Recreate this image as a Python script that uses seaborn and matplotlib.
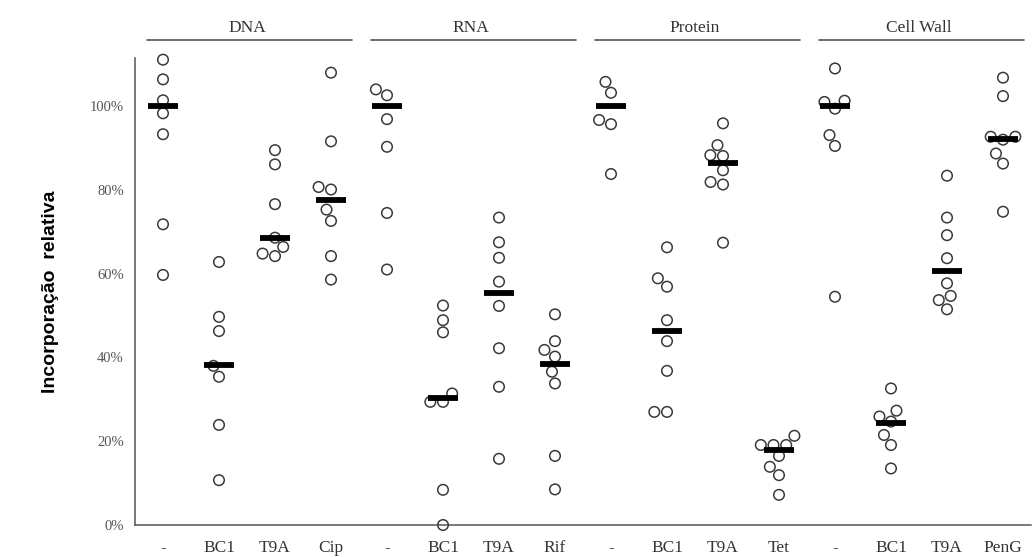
import numpy as np
import pandas as pd
import matplotlib
matplotlib.use("Agg")
import matplotlib.pyplot as plt
import seaborn as sns

# ---- data ----
groups = ["DNA", "RNA", "Protein", "Cell Wall"]
treatments = [["-", "BC1", "T9A", "Cip"],
              ["-", "BC1", "T9A", "Rif"],
              ["-", "BC1", "T9A", "Tet"],
              ["-", "BC1", "T9A", "PenG"]]

dna_ctrl = [111.1, 106.4, 101.4, 98.3, 93.3, 71.8, 59.7]
dna_bc1 = [62.8, 49.7, 46.3, 38.0, 35.4, 23.9, 10.7]
dna_t9a = [89.5, 86.1, 76.6, 68.6, 66.4, 64.2, 64.8]
dna_cip = [108.0, 91.6, 80.1, 80.7, 75.3, 72.6, 64.2, 58.6]

rna_ctrl = [104.0, 102.6, 96.9, 90.3, 74.5, 61.0]
rna_bc1 = [52.4, 48.9, 46.0, 31.4, 29.4, 29.4, 8.4, 0.0]
rna_t9a = [73.4, 67.5, 63.8, 58.1, 52.3, 42.2, 33.0, 15.8]
rna_rif = [50.3, 43.9, 41.8, 40.2, 36.6, 33.8, 16.5, 8.5]

prot_ctrl = [105.8, 103.2, 96.7, 95.7, 83.8]
prot_bc1 = [66.3, 58.9, 56.9, 48.9, 43.9, 36.8, 27.0, 27.0]
prot_t9a = [95.9, 90.7, 88.3, 88.1, 84.7, 81.9, 81.3, 67.4]
prot_tet = [21.3, 19.1, 19.1, 19.1, 16.5, 13.9, 11.9, 7.2]

cw_ctrl = [109.0, 101.3, 101.0, 99.4, 93.1, 90.5, 54.5]
cw_bc1 = [32.6, 27.3, 25.9, 24.7, 21.5, 19.1, 13.5]
cw_t9a = [83.4, 73.4, 69.2, 63.7, 57.7, 54.7, 53.7, 51.5]
cw_peng = [106.8, 102.4, 92.7, 92.7, 92.0, 88.7, 86.3, 74.8]

# horizontal bars (medians)
bar_values = [100.0, 38.2, 68.6, 77.7,
              100.0, 30.4, 55.3, 38.4,
              100.0, 46.4, 86.5, 17.9,
              100.0, 24.3, 60.7, 92.2]

series = [dna_ctrl, dna_bc1, dna_t9a, dna_cip,
          rna_ctrl, rna_bc1, rna_t9a, rna_rif,
          prot_ctrl, prot_bc1, prot_t9a, prot_tet,
          cw_ctrl, cw_bc1, cw_t9a, cw_peng]

ytick_vals = [0, 20, 40, 60, 80, 100]
ytick_labels = ["0%", "20%", "40%", "60%", "80%", "100%"]
ylabel = "Incorporação  relativa"

# ---- build long table ----
keys, tick_labels = [], []
for g, trs in zip(groups, treatments):
    for t in trs:
        keys.append(f"{g}|{t}")
        tick_labels.append(t)
rows = []
for k, vals in zip(keys, series):
    for v in vals:
        rows.append({"cond": k, "value": v})
df = pd.DataFrame(rows)

# ---- figure ----
sns.set_style("white")
plt.rcParams["font.family"] = ["Liberation Serif", "DejaVu Serif"]
fig = plt.figure(figsize=(10.36, 5.57), dpi=100)
ax = fig.add_axes([135 / 1036, 1 - 525 / 557, (1031 - 135) / 1036, (525 - 58) / 557])

sns.swarmplot(data=df, x="cond", y="value", order=keys, ax=ax, size=7.6,
              color="white", edgecolor="#3a3a3a", linewidth=1.1, zorder=3)
for c in ax.collections:
    c.set_facecolor("none")
    c.set_clip_on(False)

bar_df = pd.DataFrame({"cond": keys, "value": bar_values})
xpos = np.arange(len(keys))
ax.hlines(bar_df["value"], xpos - 0.27, xpos + 0.27, color="black",
          linewidth=4.2, zorder=5)

ax.set_xlim(-0.5, len(keys) - 0.5)
ax.set_ylim(0, 111.5)

ax.set_yticks(ytick_vals)
ax.set_yticklabels(ytick_labels, fontsize=10.5, color="#555555")
ax.set_xticks(xpos)
ax.set_xticklabels(tick_labels, fontsize=12.5, color="#333333")
ax.set_xticks(np.arange(len(keys) + 1) - 0.5, minor=True)
ax.tick_params(axis="x", which="major", length=0, pad=11)
ax.tick_params(axis="x", which="minor", length=4, width=1, color="#555555", direction="out")
ax.tick_params(axis="y", which="major", length=5, width=1, color="#555555", direction="out", pad=3)

for s in ["top", "right"]:
    ax.spines[s].set_visible(False)
for s in ["left", "bottom"]:
    ax.spines[s].set_color("#555555")
    ax.spines[s].set_linewidth(1.1)

ax.set_xlabel("")
ax.set_ylabel(ylabel, fontsize=14, fontweight="bold", family=["Liberation Sans", "DejaVu Sans"],
              color="black", labelpad=22)

# group headers
for i, g in enumerate(groups):
    x0 = i * 4 - 0.29
    x1 = i * 4 + 3.37
    ax.plot([x0, x1], [115.7, 115.7], color="#555555", linewidth=1.2, clip_on=False)
    ax.text(i * 4 + 1.5, 117.8, g, ha="center", va="baseline", fontsize=12.5, color="#333333")

fig.savefig("out.png", dpi=100)
